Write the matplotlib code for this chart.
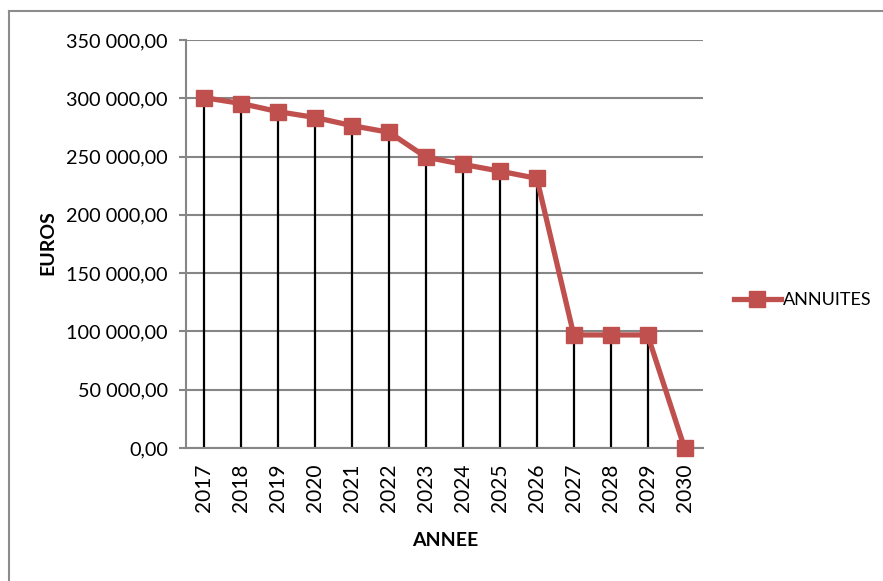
import matplotlib
matplotlib.use("Agg")
import matplotlib.pyplot as plt
from matplotlib.lines import Line2D
from matplotlib.ticker import FuncFormatter

years = ["2017", "2018", "2019", "2020", "2021", "2022", "2023",
         "2024", "2025", "2026", "2027", "2028", "2029", "2030"]
annuites = [300500, 295500, 288500, 283500, 276500, 270800, 249500,
            243300, 237500, 231300, 97000, 97000, 97000, 0]
yticks = [0, 50000, 100000, 150000, 200000, 250000, 300000, 350000]

plt.rcParams['font.family'] = ['Lato', 'DejaVu Sans']

fig = plt.figure(figsize=(8.83, 5.81), dpi=100)
ax = fig.add_axes([186/883, 1-448/581, (703-186)/883, (448-40)/581])

x = list(range(len(years)))
red = "#C0504D"
grey = "#868686"

ax.vlines(x, 0, annuites, colors="black", linewidth=1.6, zorder=2)
ax.plot(x, annuites, color=red, linewidth=3.8, marker="s", markersize=11.5,
        markerfacecolor=red, markeredgecolor=red, zorder=3, label="ANNUITES",
        clip_on=False)

ax.set_xlim(-0.5, len(years) - 0.5)
ax.set_ylim(0, 350000)
ax.set_yticks(yticks)

def fmt(v, pos):
    s = f"{v:,.2f}"
    s = s.replace(",", " ").replace(".", ",")
    return s
ax.yaxis.set_major_formatter(FuncFormatter(fmt))
ax.set_xticks(x)
ax.set_xticklabels(years, rotation=90, fontsize=15)
for t in ax.get_yticklabels():
    t.set_fontsize(14.3)

ax.grid(axis="y", color=grey, linewidth=1.5, zorder=1)
ax.set_axisbelow(True)
for side in ["top", "right"]:
    ax.spines[side].set_visible(False)
ax.spines["left"].set_color(grey)
ax.spines["left"].set_linewidth(1.5)
ax.spines["bottom"].set_color(grey)
ax.spines["bottom"].set_linewidth(1.5)
ax.tick_params(axis="y", length=5, width=1.5, color=grey, pad=8)
ax.tick_params(axis="x", length=0, pad=11)

ax.set_ylabel("EUROS", fontsize=14, fontweight="bold", va="center", ha="center")
ax.yaxis.set_label_coords((48-186)/517, (448-243)/408)
ax.set_xlabel("ANNEE", fontsize=14, fontweight="bold",
              va="center", ha="center")
ax.xaxis.set_label_coords((445-186)/517, (448-540)/408)

leg = fig.legend(handles=[Line2D([0], [0], color=red, linewidth=3.8, marker="s",
                                 markersize=11.5, markerfacecolor=red,
                                 markeredgecolor=red)],
                 labels=["ANNUITES"], loc="center left",
                 bbox_to_anchor=(734/883, 1-300/581), frameon=False,
                 prop={"size": 13},
                 handlelength=2.6, handletextpad=0.1, borderaxespad=0,
                 borderpad=0)

# chart area border (top and left visible)
fig.add_artist(Line2D([9/883, 1], [1-11/581, 1-11/581], color="#8C8C8C",
                      linewidth=1.5, transform=fig.transFigure))
fig.add_artist(Line2D([9/883, 9/883], [0, 1-11/581], color="#8C8C8C",
                      linewidth=1.5, transform=fig.transFigure))

fig.savefig("out.png", dpi=100)
